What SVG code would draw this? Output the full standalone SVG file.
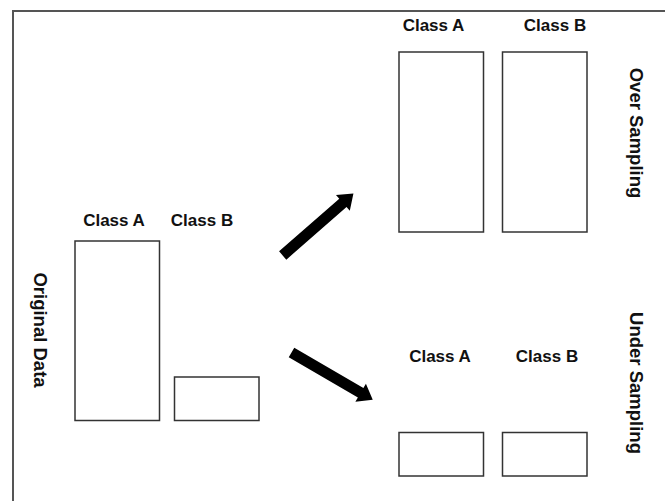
<svg xmlns="http://www.w3.org/2000/svg" width="665" height="501" viewBox="0 0 665 501">
  <style>
    .bar { fill: #ffffff; stroke: #333333; stroke-width: 1.5; }
    .lbl { font-family: "Liberation Sans", Arial, sans-serif; font-weight: bold; font-size: 17px; fill: #111111; text-anchor: middle; }
    .side { font-size: 18.5px; }
    .arrow { fill: #000000; }
    .frame { fill: none; stroke: #555555; stroke-width: 2; }
  </style>

  <rect x="0" y="0" width="665" height="501" fill="#ffffff"/>
  <path class="frame" d="M13,501 V11 H665"/>

  <!-- original dataset -->
  <g id="original">
    <text class="lbl side" transform="translate(33.5,330) rotate(90)">Original Data</text>
    <g id="orig-a">
      <text class="lbl" x="114" y="226">Class A</text>
      <rect class="bar" x="75" y="241" width="84.5" height="179.5"/>
    </g>
    <g id="orig-b">
      <text class="lbl" x="202" y="226">Class B</text>
      <rect class="bar" x="174.5" y="377" width="84.5" height="43.5"/>
    </g>
  </g>

  <!-- over sampling result -->
  <g id="over">
    <text class="lbl side" transform="translate(629.5,133) rotate(90)">Over Sampling</text>
    <g id="over-a">
      <text class="lbl" x="433.5" y="31">Class A</text>
      <rect class="bar" x="399" y="52" width="84.5" height="180"/>
    </g>
    <g id="over-b">
      <text class="lbl" x="555" y="31">Class B</text>
      <rect class="bar" x="502.5" y="52" width="84.5" height="180"/>
    </g>
  </g>

  <!-- under sampling result -->
  <g id="under">
    <text class="lbl side" transform="translate(629.5,383) rotate(90)">Under Sampling</text>
    <g id="under-a">
      <text class="lbl" x="440" y="362">Class A</text>
      <rect class="bar" x="399" y="432.5" width="84.5" height="43.5"/>
    </g>
    <g id="under-b">
      <text class="lbl" x="547" y="362">Class B</text>
      <rect class="bar" x="502.5" y="432.5" width="84.5" height="43.5"/>
    </g>
  </g>

  <defs>
    <polygon id="fat-arrow" points="0,-5.5 80,-5.5 80,-10.5 94,0 80,10.5 80,5.5 0,5.5"/>
  </defs>

  <g id="connectors">
    <use href="#fat-arrow" class="arrow" transform="translate(282.7,255.5) rotate(-41.2)"/>
    <use href="#fat-arrow" class="arrow" transform="translate(291.5,352.5) rotate(30.2)"/>
  </g>
</svg>
